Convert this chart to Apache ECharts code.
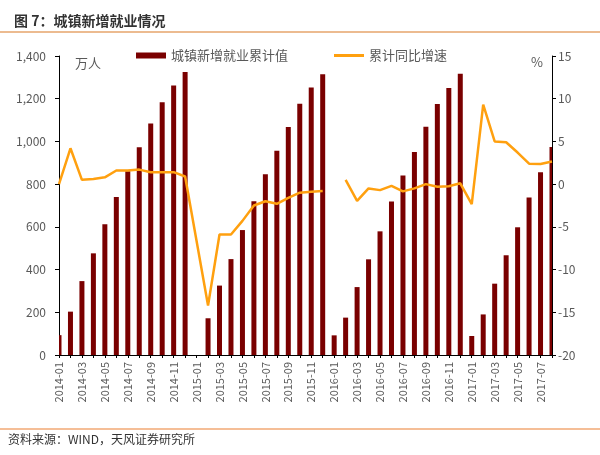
<!DOCTYPE html>
<html>
<head>
<meta charset="utf-8">
<script src="https://cdn.jsdelivr.net/npm/echarts@6/dist/echarts.min.js"></script>
<style>
html,body{margin:0;padding:0;background:#fff;}
#chart{width:600px;height:455px;}
</style>
</head>
<body>
<div id="chart"></div>
<script>
// ---- data ----
var months = [
  '2014-01','2014-02','2014-03','2014-04','2014-05','2014-06','2014-07','2014-08','2014-09','2014-10','2014-11','2014-12',
  '2015-01','2015-02','2015-03','2015-04','2015-05','2015-06','2015-07','2015-08','2015-09','2015-10','2015-11','2015-12',
  '2016-01','2016-02','2016-03','2016-04','2016-05','2016-06','2016-07','2016-08','2016-09','2016-10','2016-11','2016-12',
  '2017-01','2017-02','2017-03','2017-04','2017-05','2017-06','2017-07','2017-08'
];
// 城镇新增就业累计值 (万人)
var employment = [
  93, 203, 346, 476, 612, 740, 860, 973, 1084, 1184, 1262, 1325,
  null, 172, 325, 449, 585, 720, 846, 956, 1068, 1176, 1253, 1315,
  92, 175, 318, 448, 579, 719, 840, 950, 1069, 1175, 1250, 1317,
  89, 190, 334, 467, 598, 737, 856, 974
];
// 累计同比增速 (%)
var growth = [
  0.0, 4.2, 0.5, 0.6, 0.8, 1.6, 1.6, 1.7, 1.4, 1.4, 1.4, 0.9,
  null, -14.2, -5.9, -5.9, -4.3, -2.5, -2.0, -2.3, -1.6, -1.0, -0.9, -0.8,
  null, 0.5, -1.95, -0.5, -0.7, -0.2, -0.85, -0.5, 0.0, -0.3, -0.25, 0.1,
  -2.35, 9.3, 5.0, 4.9, 3.7, 2.4, 2.35, 2.65
];
var leftTicks = [0, 1400, 200];
var rightTicks = [-20, 15, 5];
var lineBreakMonth = '2016-01'; // no line drawn across this month

var breakIdx = months.indexOf(lineBreakMonth);
var growthA = growth.map(function (v, i) { return i < breakIdx ? v : null; });
var growthB = growth.map(function (v, i) { return i > breakIdx ? v : null; });
var barData = employment.map(function (v, i) { return [i, v]; });

var gray = '#595959';
var font = '"Noto Sans CJK SC", "Noto Sans", sans-serif';
var barColor = '#7A0000';
var lineColor = '#FFA00F';
var barW = 5;

function renderBar(params, api) {
  var v = api.value(1);
  if (v == null || isNaN(v)) return null;
  var idx = api.value(0);
  var base = api.coord([idx, 0]);
  var top = api.coord([idx, v]);
  var cs = params.coordSys;
  var rect = echarts.graphic.clipRectByRect(
    {x: base[0] - barW / 2, y: top[1], width: barW, height: base[1] - top[1]},
    {x: cs.x, y: cs.y, width: cs.width, height: cs.height}
  );
  if (!rect) return null;
  return {type: 'rect', shape: rect, style: {fill: barColor}};
}

var chart = echarts.init(document.getElementById('chart'), null, {renderer: 'canvas'});
chart.setOption({
  animation: false,
  backgroundColor: '#fff',
  textStyle: {fontFamily: font},
  title: {
    text: '图 7：城镇新增就业情况',
    left: 9, top: 9,
    textStyle: {fontSize: 14, fontWeight: 'bold', color: '#333', fontFamily: font}
  },
  legend: [
    {
      data: [{name: '城镇新增就业累计值', icon: 'rect'}],
      left: 131, top: 44,
      itemWidth: 30, itemHeight: 6, itemGap: 5,
      textStyle: {fontSize: 13, color: gray, fontFamily: font},
      selectedMode: false
    },
    {
      data: [{name: '累计同比增速', icon: 'rect'}],
      left: 329, top: 44,
      itemWidth: 30, itemHeight: 3,
      textStyle: {fontSize: 13, color: gray, fontFamily: font},
      selectedMode: false
    }
  ],
  grid: {left: 59, right: 48, top: 56, bottom: 100, containLabel: false},
  xAxis: {
    type: 'category',
    data: months,
    boundaryGap: false,
    axisLine: {onZero: false, lineStyle: {color: '#000', width: 1}},
    axisTick: {show: true, interval: 0, length: 3, lineStyle: {color: '#000'}},
    axisLabel: {interval: 1, rotate: 90, fontSize: 11, color: gray, margin: 7, fontFamily: font},
    splitLine: {show: false}
  },
  yAxis: [
    {
      type: 'value',
      min: leftTicks[0], max: leftTicks[1], interval: leftTicks[2],
      position: 'left',
      axisLine: {show: true, lineStyle: {color: '#000', width: 1}},
      axisTick: {show: true, length: 4, lineStyle: {color: '#000'}},
      axisLabel: {
        fontSize: 12, color: gray, margin: 13, fontFamily: font,
        formatter: function (v) { return v.toLocaleString('en-US'); }
      },
      splitLine: {show: false}
    },
    {
      type: 'value',
      min: rightTicks[0], max: rightTicks[1], interval: rightTicks[2],
      position: 'right',
      axisLine: {show: true, lineStyle: {color: '#000', width: 1}},
      axisTick: {show: true, length: 4, lineStyle: {color: '#000'}},
      axisLabel: {fontSize: 12, color: gray, margin: 6, fontFamily: font},
      splitLine: {show: false}
    }
  ],
  series: [
    {
      name: '城镇新增就业累计值',
      type: 'custom',
      renderItem: renderBar,
      data: barData,
      encode: {x: 0, y: 1},
      itemStyle: {color: barColor},
      z: 2
    },
    {
      name: '累计同比增速',
      type: 'line',
      yAxisIndex: 1,
      data: growthA,
      connectNulls: true,
      symbol: 'none',
      lineStyle: {color: lineColor, width: 2.5},
      itemStyle: {color: lineColor},
      z: 3
    },
    {
      name: '累计同比增速',
      type: 'line',
      yAxisIndex: 1,
      data: growthB,
      connectNulls: false,
      symbol: 'none',
      lineStyle: {color: lineColor, width: 2.5},
      itemStyle: {color: lineColor},
      z: 3
    }
  ],
  graphic: [
    {type: 'line', shape: {x1: 0, y1: 32, x2: 600, y2: 32}, style: {stroke: '#E6A46B', lineWidth: 1.5}},
    {type: 'line', shape: {x1: 0, y1: 429, x2: 600, y2: 429}, style: {stroke: '#F2A875', lineWidth: 1.5}},
    {type: 'text', left: 75, top: 57, style: {text: '万人', fontSize: 13, fill: gray, fontFamily: font}},
    {type: 'text', left: 531, top: 56, style: {text: '%', fontSize: 13, fill: gray, fontFamily: font}},
    {type: 'text', left: 8, top: 433, style: {text: '资料来源：WIND，天风证券研究所', fontSize: 12, fill: '#333', fontFamily: font}}
  ]
});
</script>
</body>
</html>
